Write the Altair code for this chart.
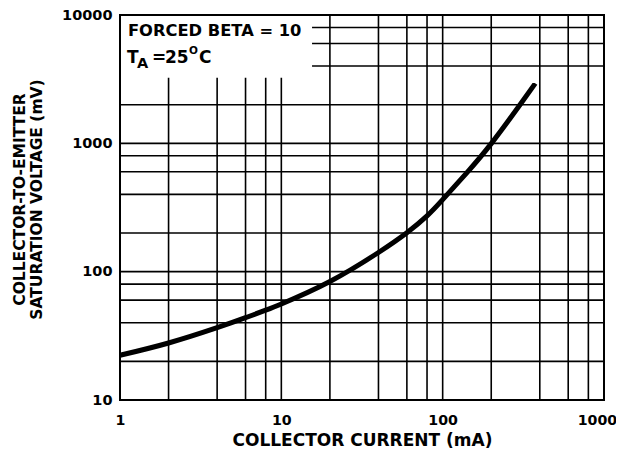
import altair as alt
import pandas as pd

# Curve data (collector current mA -> Vce(sat) mV)
current_ma = [1, 2, 4, 6, 8, 10, 20, 40, 60, 80, 100, 141, 200, 300, 375]
vce_mv = [22.3, 27.8, 36.6, 43.8, 50.1, 56, 83.8, 141, 201, 272, 364, 589, 995, 1980, 2930]

# Grid lines
x_grid = [2, 4, 6, 8, 10, 20, 40, 60, 80, 100, 200, 400, 600, 800]
y_grid = [20, 40, 60, 80, 100, 200, 400, 600, 800, 1000, 2000, 4000, 6000, 8000]
x_ticks = [1, 10, 100, 1000]
y_ticks = [10, 100, 1000, 10000]

# Legend box corner (grid is not drawn inside it)
box_x = 15.5
box_y = 3250

FONT = "DejaVu Sans"

xs = alt.Scale(type="log", domain=[1, 1000], nice=False)
ys = alt.Scale(type="log", domain=[10, 10000], nice=False)

x_axis = alt.Axis(
    values=x_ticks, format="d", grid=False, ticks=False, tickSize=0, domain=False,
    labelFont=FONT, labelFontWeight="bold", labelFontSize=14.2, labelColor="black",
    labelPadding=13, labelFlush=False, labelOverlap=False, labelBound=False,
    labelOffset=alt.condition("datum.value == 1000", alt.value(-7), alt.value(0)),
    title="COLLECTOR CURRENT (mA)", titleFont=FONT, titleFontWeight="bold",
    titleFontSize=17, titleColor="black", titleBaseline="alphabetic", titleY=45,
)
y_axis = alt.Axis(
    values=y_ticks, format="d", grid=False, ticks=False, tickSize=0, domain=False,
    labelFont=FONT, labelFontWeight="bold", labelFontSize=14.5, labelColor="black",
    labelPadding=8, labelFlush=False, labelOverlap=False, labelBound=False,
    title=["COLLECTOR-TO-EMITTER", "SATURATION VOLTAGE (mV)"],
    titleFont=FONT, titleFontWeight="bold", titleFontSize=15.5, titleColor="black",
    titleAngle=270, titleAlign="center", titleBaseline="alphabetic",
    titleX=-96, titleY=184, titleLineHeight=17.5,
)

vdf = pd.DataFrame({
    "x": x_grid,
    "y1": [10] * len(x_grid),
    "y2": [box_y if v <= 10 else 10000 for v in x_grid],
})
hdf = pd.DataFrame({
    "y": y_grid,
    "x1": [box_x if v >= 4000 else 1 for v in y_grid],
    "x2": [1000] * len(y_grid),
})
cdf = pd.DataFrame({"i": current_ma, "v": vce_mv})

vgrid = alt.Chart(vdf).mark_rule(color="black", strokeWidth=1.6).encode(
    x=alt.X("x:Q", scale=xs, axis=x_axis),
    y=alt.Y("y1:Q", scale=ys, axis=y_axis),
    y2="y2:Q",
)
hgrid = alt.Chart(hdf).mark_rule(color="black", strokeWidth=1.6).encode(
    y=alt.Y("y:Q", scale=ys, axis=y_axis),
    x=alt.X("x1:Q", scale=xs, axis=x_axis),
    x2="x2:Q",
)

curve = alt.Chart(cdf).mark_line(
    color="black", strokeWidth=5, interpolate="natural", strokeCap="butt"
).encode(
    x=alt.X("i:Q", scale=xs, axis=x_axis),
    y=alt.Y("v:Q", scale=ys, axis=y_axis),
)

# Annotation pieces: text, dx, dy, size
ann_text = ["FORCED BETA = 10", "T", "A", "=", "25", "O", "C"]
ann_dx = [8, 7, 17, 32, 45, 69, 79]
ann_dy = [21, 48, 53, 48, 48, 39, 48]
ann_size = [16.3, 17, 14.5, 17, 17, 10.5, 17]

texts = []
for t, dx, dy, s in zip(ann_text, ann_dx, ann_dy, ann_size):
    texts.append(
        alt.Chart(pd.DataFrame({"t": [t]})).mark_text(
            align="left", baseline="alphabetic", dx=dx, dy=dy, fontSize=s,
            font=FONT, fontWeight="bold", color="black",
        ).encode(
            x=alt.datum(1, scale=xs, axis=x_axis),
            y=alt.datum(10000, scale=ys, axis=y_axis),
            text="t:N",
        )
    )

chart = alt.layer(vgrid, hgrid, curve, *texts).properties(
    width=484, height=385,
    autosize=alt.AutoSizeParams(type="none"),
    padding={"left": 112, "top": 7, "right": 12, "bottom": 51},
    background="white",
).configure_view(stroke="black", strokeWidth=2)

chart.save("out.html", embed_options={"renderer": "svg", "actions": False})
